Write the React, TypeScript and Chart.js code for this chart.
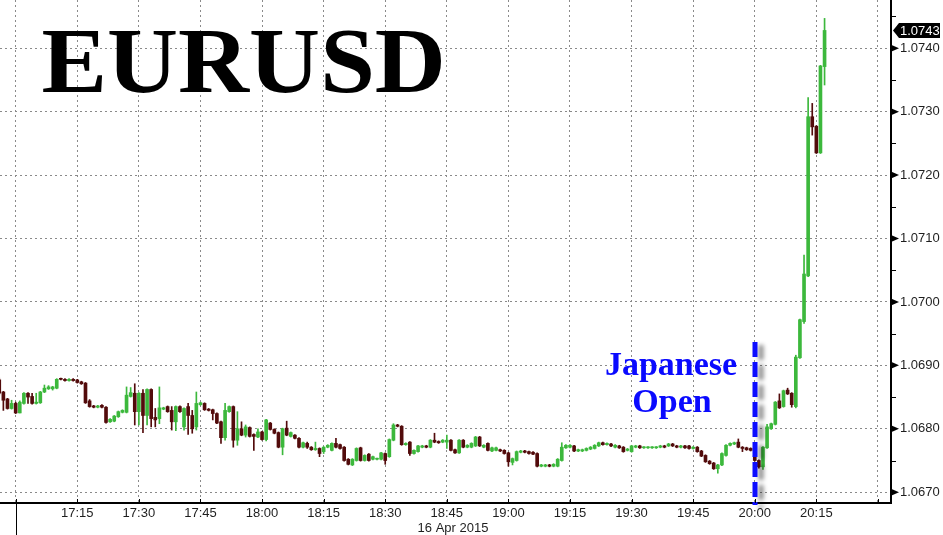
import React, { useEffect, useRef } from 'react';
import { Chart, registerables } from 'chart.js';

Chart.register(...registerables);

const TITLE = 'EURUSD';
const EVENT_LABEL = ['Japanese', 'Open'];
const EVENT_TIME = '20:00';
const EVENT_TOP_PRICE = 1.06937;
const DAY_START = '17:00';
const DATE_LABEL = '16 Apr 2015';
const X_TICK_LABELS = ['17:15', '17:30', '17:45', '18:00', '18:15', '18:30', '18:45', '19:00', '19:15', '19:30', '19:45', '20:00', '20:15'];
const Y_TICK_LABELS = ['1.0670', '1.0680', '1.0690', '1.0700', '1.0710', '1.0720', '1.0730', '1.0740'];

const times = [
  '16:56', '16:57', '16:58', '16:59', '17:00', '17:01', '17:02', '17:03', '17:04', '17:05',
  '17:06', '17:07', '17:08', '17:09', '17:10', '17:11', '17:12', '17:13', '17:14', '17:15',
  '17:16', '17:17', '17:18', '17:19', '17:20', '17:21', '17:22', '17:23', '17:24', '17:25',
  '17:26', '17:27', '17:28', '17:29', '17:30', '17:31', '17:32', '17:33', '17:34', '17:35',
  '17:36', '17:37', '17:38', '17:39', '17:40', '17:41', '17:42', '17:43', '17:44', '17:45',
  '17:46', '17:47', '17:48', '17:49', '17:50', '17:51', '17:52', '17:53', '17:54', '17:55',
  '17:56', '17:57', '17:58', '17:59', '18:00', '18:01', '18:02', '18:03', '18:04', '18:05',
  '18:06', '18:07', '18:08', '18:09', '18:10', '18:11', '18:12', '18:13', '18:14', '18:15',
  '18:16', '18:17', '18:18', '18:19', '18:20', '18:21', '18:22', '18:23', '18:24', '18:25',
  '18:26', '18:27', '18:28', '18:29', '18:30', '18:31', '18:32', '18:33', '18:34', '18:35',
  '18:36', '18:37', '18:38', '18:39', '18:40', '18:41', '18:42', '18:43', '18:44', '18:45',
  '18:46', '18:47', '18:48', '18:49', '18:50', '18:51', '18:52', '18:53', '18:54', '18:55',
  '18:56', '18:57', '18:58', '18:59', '19:00', '19:01', '19:02', '19:03', '19:04', '19:05',
  '19:06', '19:07', '19:08', '19:09', '19:10', '19:11', '19:12', '19:13', '19:14', '19:15',
  '19:16', '19:17', '19:18', '19:19', '19:20', '19:21', '19:22', '19:23', '19:24', '19:25',
  '19:26', '19:27', '19:28', '19:29', '19:30', '19:31', '19:32', '19:33', '19:34', '19:35',
  '19:36', '19:37', '19:38', '19:39', '19:40', '19:41', '19:42', '19:43', '19:44', '19:45',
  '19:46', '19:47', '19:48', '19:49', '19:50', '19:51', '19:52', '19:53', '19:54', '19:55',
  '19:56', '19:57', '19:58', '19:59', '20:00', '20:01', '20:02', '20:03', '20:04', '20:05',
  '20:06', '20:07', '20:08', '20:09', '20:10', '20:11', '20:12', '20:13', '20:14', '20:15',
  '20:16', '20:17',
];

const opens = [
  1.06877, 1.06858, 1.06847, 1.06832, 1.06840, 1.06825, 1.06840, 1.06856, 1.06851, 1.06840,
  1.06841, 1.06858, 1.06863, 1.06863, 1.06864, 1.06879, 1.06878, 1.06876, 1.06878, 1.06877,
  1.06874, 1.06872, 1.06844, 1.06836, 1.06834, 1.06837, 1.06834, 1.06811, 1.06812, 1.06819,
  1.06826, 1.06826, 1.06851, 1.06856, 1.06827, 1.06856, 1.06821, 1.06862, 1.06818, 1.06816,
  1.06831, 1.06835, 1.06829, 1.06811, 1.06835, 1.06803, 1.06835, 1.06821, 1.06803, 1.06838,
  1.06840, 1.06831, 1.06830, 1.06824, 1.06811, 1.06786, 1.06827, 1.06835, 1.06782, 1.06800,
  1.06790, 1.06802, 1.06791, 1.06787, 1.06795, 1.06783, 1.06809, 1.06799, 1.06794, 1.06771,
  1.06801, 1.06788, 1.06790, 1.06785, 1.06771, 1.06777, 1.06771, 1.06767, 1.06769, 1.06764,
  1.06771, 1.06766, 1.06777, 1.06775, 1.06771, 1.06752, 1.06743, 1.06750, 1.06770, 1.06750,
  1.06760, 1.06752, 1.06752, 1.06752, 1.06761, 1.06756, 1.06782, 1.06806, 1.06804, 1.06775,
  1.06779, 1.06761, 1.06764, 1.06771, 1.06773, 1.06771, 1.06782, 1.06780, 1.06779, 1.06779,
  1.06782, 1.06767, 1.06762, 1.06782, 1.06771, 1.06771, 1.06773, 1.06787, 1.06771, 1.06777,
  1.06765, 1.06766, 1.06767, 1.06766, 1.06762, 1.06747, 1.06750, 1.06763, 1.06765, 1.06764,
  1.06763, 1.06761, 1.06741, 1.06741, 1.06743, 1.06741, 1.06741, 1.06750, 1.06770, 1.06771,
  1.06773, 1.06765, 1.06765, 1.06766, 1.06768, 1.06769, 1.06773, 1.06778, 1.06775, 1.06776,
  1.06771, 1.06773, 1.06771, 1.06766, 1.06764, 1.06771, 1.06773, 1.06770, 1.06770, 1.06770,
  1.06770, 1.06771, 1.06773, 1.06773, 1.06776, 1.06773, 1.06771, 1.06773, 1.06773, 1.06769,
  1.06771, 1.06765, 1.06758, 1.06749, 1.06746, 1.06737, 1.06743, 1.06758, 1.06774, 1.06776,
  1.06779, 1.06771, 1.06770, 1.06769, 1.06758, 1.06750, 1.06740, 1.06770, 1.06800, 1.06807,
  1.06844, 1.06835, 1.06861, 1.06856, 1.06835, 1.06912, 1.06969, 1.07041, 1.07292, 1.07277,
  1.07235, 1.07371,
];

const highs = [
  1.06880, 1.06859, 1.06848, 1.06845, 1.06842, 1.06844, 1.06857, 1.06857, 1.06856, 1.06856,
  1.06859, 1.06869, 1.06868, 1.06867, 1.06879, 1.06880, 1.06879, 1.06879, 1.06879, 1.06878,
  1.06875, 1.06873, 1.06846, 1.06837, 1.06837, 1.06838, 1.06835, 1.06816, 1.06821, 1.06828,
  1.06830, 1.06866, 1.06865, 1.06871, 1.06857, 1.06862, 1.06863, 1.06863, 1.06832, 1.06866,
  1.06834, 1.06836, 1.06835, 1.06836, 1.06836, 1.06833, 1.06840, 1.06829, 1.06858, 1.06842,
  1.06841, 1.06832, 1.06831, 1.06825, 1.06812, 1.06840, 1.06836, 1.06836, 1.06827, 1.06811,
  1.06806, 1.06803, 1.06792, 1.06800, 1.06796, 1.06815, 1.06810, 1.06800, 1.06795, 1.06801,
  1.06812, 1.06795, 1.06791, 1.06786, 1.06779, 1.06779, 1.06772, 1.06779, 1.06770, 1.06772,
  1.06775, 1.06778, 1.06785, 1.06776, 1.06772, 1.06753, 1.06753, 1.06770, 1.06771, 1.06759,
  1.06761, 1.06757, 1.06754, 1.06763, 1.06762, 1.06784, 1.06808, 1.06807, 1.06805, 1.06778,
  1.06780, 1.06767, 1.06774, 1.06774, 1.06774, 1.06783, 1.06793, 1.06781, 1.06783, 1.06790,
  1.06783, 1.06768, 1.06783, 1.06783, 1.06775, 1.06778, 1.06788, 1.06788, 1.06775, 1.06778,
  1.06771, 1.06771, 1.06768, 1.06767, 1.06763, 1.06754, 1.06765, 1.06766, 1.06766, 1.06765,
  1.06764, 1.06762, 1.06744, 1.06744, 1.06744, 1.06745, 1.06753, 1.06778, 1.06775, 1.06775,
  1.06774, 1.06768, 1.06768, 1.06770, 1.06772, 1.06775, 1.06779, 1.06779, 1.06778, 1.06777,
  1.06775, 1.06774, 1.06772, 1.06769, 1.06774, 1.06774, 1.06774, 1.06772, 1.06772, 1.06772,
  1.06772, 1.06774, 1.06774, 1.06777, 1.06777, 1.06774, 1.06774, 1.06774, 1.06774, 1.06772,
  1.06772, 1.06766, 1.06759, 1.06750, 1.06747, 1.06744, 1.06762, 1.06775, 1.06778, 1.06779,
  1.06784, 1.06772, 1.06771, 1.06770, 1.06759, 1.06751, 1.06772, 1.06807, 1.06809, 1.06843,
  1.06855, 1.06861, 1.06864, 1.06857, 1.06916, 1.06973, 1.07074, 1.07322, 1.07313, 1.07278,
  1.07373, 1.07447,
];

const lows = [
  1.06853, 1.06829, 1.06831, 1.06831, 1.06824, 1.06825, 1.06839, 1.06840, 1.06839, 1.06839,
  1.06840, 1.06857, 1.06862, 1.06861, 1.06863, 1.06877, 1.06875, 1.06875, 1.06875, 1.06872,
  1.06870, 1.06840, 1.06834, 1.06833, 1.06833, 1.06833, 1.06809, 1.06810, 1.06811, 1.06818,
  1.06825, 1.06825, 1.06850, 1.06806, 1.06806, 1.06794, 1.06806, 1.06803, 1.06803, 1.06808,
  1.06830, 1.06826, 1.06798, 1.06797, 1.06826, 1.06798, 1.06791, 1.06793, 1.06798, 1.06837,
  1.06829, 1.06828, 1.06814, 1.06808, 1.06777, 1.06782, 1.06826, 1.06771, 1.06774, 1.06789,
  1.06787, 1.06787, 1.06766, 1.06786, 1.06782, 1.06781, 1.06798, 1.06792, 1.06770, 1.06759,
  1.06789, 1.06787, 1.06784, 1.06770, 1.06770, 1.06769, 1.06766, 1.06766, 1.06756, 1.06761,
  1.06770, 1.06765, 1.06770, 1.06768, 1.06749, 1.06743, 1.06742, 1.06749, 1.06749, 1.06749,
  1.06749, 1.06751, 1.06751, 1.06751, 1.06744, 1.06755, 1.06781, 1.06803, 1.06774, 1.06774,
  1.06758, 1.06760, 1.06763, 1.06770, 1.06770, 1.06770, 1.06778, 1.06777, 1.06778, 1.06769,
  1.06765, 1.06761, 1.06761, 1.06770, 1.06770, 1.06770, 1.06772, 1.06772, 1.06770, 1.06765,
  1.06764, 1.06765, 1.06764, 1.06760, 1.06741, 1.06743, 1.06749, 1.06762, 1.06762, 1.06760,
  1.06759, 1.06740, 1.06740, 1.06740, 1.06740, 1.06740, 1.06740, 1.06749, 1.06769, 1.06770,
  1.06764, 1.06764, 1.06764, 1.06765, 1.06767, 1.06768, 1.06772, 1.06774, 1.06774, 1.06772,
  1.06770, 1.06769, 1.06763, 1.06765, 1.06763, 1.06770, 1.06769, 1.06769, 1.06769, 1.06769,
  1.06769, 1.06770, 1.06770, 1.06772, 1.06772, 1.06770, 1.06770, 1.06769, 1.06768, 1.06768,
  1.06763, 1.06756, 1.06747, 1.06744, 1.06736, 1.06730, 1.06742, 1.06757, 1.06773, 1.06775,
  1.06770, 1.06764, 1.06766, 1.06765, 1.06749, 1.06738, 1.06736, 1.06769, 1.06799, 1.06806,
  1.06832, 1.06834, 1.06854, 1.06834, 1.06833, 1.06911, 1.06966, 1.07040, 1.07263, 1.07234,
  1.07234, 1.07342,
];

const closes = [
  1.06856, 1.06845, 1.06832, 1.06840, 1.06825, 1.06842, 1.06856, 1.06850, 1.06840, 1.06842,
  1.06858, 1.06864, 1.06866, 1.06866, 1.06878, 1.06878, 1.06876, 1.06878, 1.06876, 1.06873,
  1.06871, 1.06841, 1.06835, 1.06834, 1.06836, 1.06834, 1.06810, 1.06815, 1.06820, 1.06827,
  1.06829, 1.06853, 1.06857, 1.06827, 1.06856, 1.06821, 1.06862, 1.06816, 1.06814, 1.06833,
  1.06833, 1.06827, 1.06811, 1.06835, 1.06827, 1.06832, 1.06821, 1.06800, 1.06840, 1.06841,
  1.06830, 1.06829, 1.06824, 1.06809, 1.06786, 1.06829, 1.06835, 1.06782, 1.06800, 1.06790,
  1.06803, 1.06788, 1.06788, 1.06795, 1.06783, 1.06814, 1.06799, 1.06793, 1.06771, 1.06800,
  1.06790, 1.06794, 1.06785, 1.06771, 1.06778, 1.06771, 1.06767, 1.06769, 1.06761, 1.06771,
  1.06774, 1.06777, 1.06771, 1.06769, 1.06750, 1.06744, 1.06752, 1.06769, 1.06750, 1.06758,
  1.06750, 1.06756, 1.06753, 1.06762, 1.06750, 1.06783, 1.06806, 1.06804, 1.06775, 1.06777,
  1.06761, 1.06766, 1.06773, 1.06773, 1.06771, 1.06782, 1.06779, 1.06778, 1.06782, 1.06782,
  1.06766, 1.06762, 1.06782, 1.06771, 1.06774, 1.06777, 1.06787, 1.06773, 1.06774, 1.06766,
  1.06770, 1.06770, 1.06765, 1.06761, 1.06748, 1.06753, 1.06764, 1.06765, 1.06763, 1.06761,
  1.06760, 1.06741, 1.06743, 1.06743, 1.06741, 1.06744, 1.06752, 1.06771, 1.06774, 1.06774,
  1.06765, 1.06767, 1.06767, 1.06769, 1.06771, 1.06774, 1.06778, 1.06775, 1.06777, 1.06773,
  1.06774, 1.06770, 1.06764, 1.06768, 1.06773, 1.06773, 1.06770, 1.06771, 1.06771, 1.06771,
  1.06771, 1.06773, 1.06771, 1.06776, 1.06773, 1.06771, 1.06773, 1.06770, 1.06769, 1.06771,
  1.06764, 1.06757, 1.06748, 1.06745, 1.06737, 1.06743, 1.06761, 1.06774, 1.06777, 1.06778,
  1.06771, 1.06769, 1.06767, 1.06766, 1.06750, 1.06740, 1.06771, 1.06803, 1.06808, 1.06842,
  1.06833, 1.06860, 1.06855, 1.06838, 1.06913, 1.06972, 1.07044, 1.07292, 1.07276, 1.07235,
  1.07372, 1.07428,
];

// axis window (minutes after DAY_START, price)
const X_MIN = -3.82;
const X_MAX = 213.18;
const Y_MIN = 1.06683;
const Y_MAX = 1.07476;

const UP = '#3cb83c';
const DOWN = '#520b0b';
const GRID = '#8a8a8a';
const TEXT = '#1e1e1e';
const FONT = '"Liberation Sans", Arial, sans-serif';
const SERIF = '"Liberation Serif", "Times New Roman", serif';

const toMin = (s: string) => {
  const [h, m] = s.split(':').map(Number);
  const [h0, m0] = DAY_START.split(':').map(Number);
  return h * 60 + m - (h0 * 60 + m0);
};
const fmtMin = (v: number) => {
  const [h0, m0] = DAY_START.split(':').map(Number);
  const tot = Math.round(v) + h0 * 60 + m0;
  return `${Math.floor(tot / 60)}:${String(tot % 60).padStart(2, '0')}`;
};
const isMajorY = (v: number) => Y_TICK_LABELS.includes(v.toFixed(4));

const decoPlugin = {
  id: 'deco',
  afterDatasetsDraw(chart: any) {
    const { ctx, chartArea: ca, scales } = chart;
    const x = scales.x;
    const y = scales.y;
    const ex = Math.round(x.getPixelForValue(toMin(EVENT_TIME)));
    const ey = y.getPixelForValue(EVENT_TOP_PRICE);
    ctx.save();
    ctx.strokeStyle = '#0d0dff';
    ctx.lineWidth = 5;
    ctx.setLineDash([15, 5]);
    ctx.shadowColor = 'rgba(0,0,0,0.45)';
    ctx.shadowBlur = 4;
    ctx.shadowOffsetX = 6;
    ctx.shadowOffsetY = 3;
    ctx.beginPath();
    ctx.moveTo(ex, ey);
    ctx.lineTo(ex, ca.bottom + 2);
    ctx.stroke();
    ctx.restore();
  },
  afterDraw(chart: any) {
    const { ctx, chartArea: ca, scales } = chart;
    const x = scales.x;
    const y = scales.y;
    ctx.save();

    // x tick marks (inside, above the axis line)
    ctx.strokeStyle = '#000';
    ctx.lineWidth = 1;
    x.ticks.forEach((t: any) => {
      const px = Math.round(x.getPixelForValue(t.value)) + 0.5;
      ctx.beginPath();
      ctx.moveTo(px, ca.bottom - 4);
      ctx.lineTo(px, ca.bottom);
      ctx.stroke();
    });
    // day separator
    const sx = Math.round(x.getPixelForValue(toMin(DAY_START))) + 0.5;
    ctx.beginPath();
    ctx.moveTo(sx, ca.bottom);
    ctx.lineTo(sx, chart.height);
    ctx.stroke();

    // y tick marks: triangles at labelled ticks, short dashes between
    y.ticks.forEach((t: any) => {
      const py = y.getPixelForValue(t.value);
      ctx.fillStyle = '#000';
      if (isMajorY(t.value)) {
        ctx.beginPath();
        ctx.moveTo(ca.right, py - 3.5);
        ctx.lineTo(ca.right + 8, py);
        ctx.lineTo(ca.right, py + 3.5);
        ctx.closePath();
        ctx.fill();
      } else {
        const yy = Math.round(py) + 0.5;
        ctx.beginPath();
        ctx.moveTo(ca.right, yy);
        ctx.lineTo(ca.right + 5, yy);
        ctx.stroke();
      }
    });

    // last price tag
    const last = closes[closes.length - 1];
    const ly = y.getPixelForValue(last);
    ctx.fillStyle = '#000';
    ctx.beginPath();
    ctx.moveTo(ca.right + 2, ly);
    ctx.lineTo(ca.right + 8, ly - 7.5);
    ctx.lineTo(chart.width - 3, ly - 7.5);
    ctx.lineTo(chart.width - 3, ly + 7.5);
    ctx.lineTo(ca.right + 8, ly + 7.5);
    ctx.closePath();
    ctx.fill();
    ctx.fillStyle = '#fff';
    ctx.font = `13px ${FONT}`;
    ctx.textBaseline = 'middle';
    ctx.textAlign = 'left';
    ctx.fillText(last.toFixed(4), ca.right + 9, ly + 0.5);

    // date label
    ctx.fillStyle = TEXT;
    ctx.textAlign = 'center';
    ctx.fillText(DATE_LABEL, 453, 528);

    // title
    ctx.fillStyle = '#000';
    ctx.font = `bold 93px ${SERIF}`;
    ctx.textAlign = 'left';
    ctx.textBaseline = 'alphabetic';
    const m = ctx.measureText(TITLE);
    const ink = m.actualBoundingBoxLeft + m.actualBoundingBoxRight;
    ctx.save();
    ctx.translate(42.5, 92);
    ctx.scale(399 / ink, 1);
    ctx.fillText(TITLE, m.actualBoundingBoxLeft, 0);
    ctx.restore();

    // event label
    ctx.fillStyle = '#0a0aff';
    ctx.font = `bold 34px ${SERIF}`;
    ctx.textAlign = 'center';
    ctx.fillText(EVENT_LABEL[0], 671, 375);
    ctx.fillText(EVENT_LABEL[1], 672, 412);

    ctx.restore();
  },
};

export default function App() {
  const ref = useRef<HTMLCanvasElement | null>(null);

  useEffect(() => {
    if (!ref.current) return;
    const colors = opens.map((o, i) => (closes[i] >= o ? UP : DOWN));
    const bodies = times.map((t, i) => ({ x: toMin(t), y: [opens[i], closes[i]] }));
    const wicks = times.map((t, i) => ({ x: toMin(t), y: [lows[i], highs[i]] }));

    const chart = new Chart(ref.current, {
      type: 'bar',
      data: {
        datasets: [
          {
            label: 'body',
            data: bodies as any,
            backgroundColor: colors,
            borderWidth: 0,
            barThickness: 3,
            minBarLength: 1,
            grouped: false,
            order: 1,
          } as any,
          {
            label: 'wick',
            data: wicks as any,
            backgroundColor: colors,
            borderWidth: 0,
            barThickness: 1,
            grouped: false,
            order: 2,
          } as any,
        ],
      },
      options: {
        animation: false,
        responsive: false,
        devicePixelRatio: 1,
        layout: { padding: 0, autoPadding: false } as any,
        plugins: { legend: { display: false }, tooltip: { enabled: false } },
        scales: {
          x: {
            type: 'linear',
            position: 'bottom',
            min: X_MIN,
            max: X_MAX,
            offset: false,
            grid: { color: GRID, lineWidth: 1, drawTicks: false, offset: false },
            border: { display: true, color: '#000', width: 2, dash: [2, 3] },
            ticks: {
              stepSize: 15,
              includeBounds: false,
              autoSkip: false,
              maxRotation: 0,
              padding: 3,
              color: TEXT,
              font: { size: 13, family: FONT },
              callback: (v: any) => {
                const s = fmtMin(Number(v));
                return X_TICK_LABELS.includes(s) ? s : '';
              },
            } as any,
            afterFit: (s: any) => {
              s.height = 32;
              s.paddingLeft = 0;
              s.paddingRight = 0;
            },
          },
          y: {
            type: 'linear',
            position: 'right',
            min: Y_MIN,
            max: Y_MAX,
            grid: {
              color: (c: any) => (c.tick && isMajorY(c.tick.value) ? GRID : 'rgba(0,0,0,0)'),
              lineWidth: 1,
              drawTicks: false,
            },
            border: { display: true, color: '#000', width: 2, dash: [2, 3] },
            ticks: {
              stepSize: 0.0005,
              includeBounds: false,
              autoSkip: false,
              padding: 9,
              color: TEXT,
              font: { size: 13, family: FONT },
              callback: (v: any) => {
                const s = Number(v).toFixed(4);
                return Y_TICK_LABELS.includes(s) ? s : '';
              },
            } as any,
            afterFit: (s: any) => {
              s.width = 52;
              s.paddingTop = 0;
              s.paddingBottom = 0;
            },
          },
        },
      } as any,
      plugins: [decoPlugin],
    });
    return () => chart.destroy();
  }, []);

  return (
    <div style={{ position: 'absolute', left: 0, top: 0, width: 943, height: 535, background: '#fff' }}>
      <canvas ref={ref} width={943} height={535} style={{ display: 'block' }} />
    </div>
  );
}
